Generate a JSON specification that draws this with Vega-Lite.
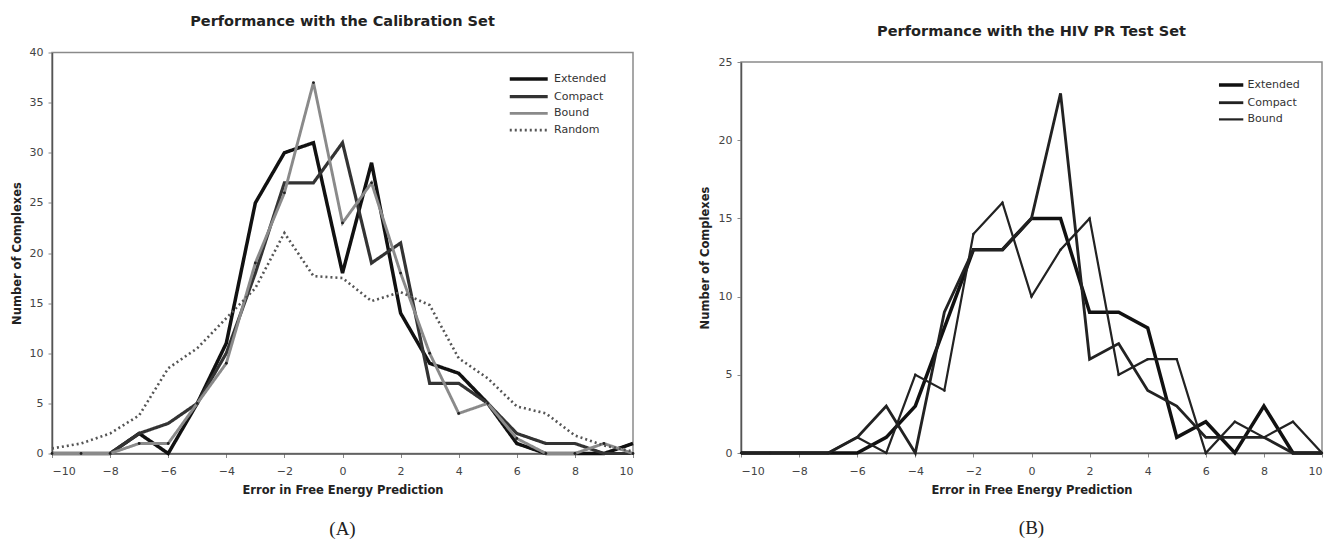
{
  "$schema": "https://vega.github.io/schema/vega-lite/v6.json",
  "padding": {"left": 10, "top": 12.5, "right": 0, "bottom": 0},
  "background": "white",
  "spacing": 57,
  "resolve": {"scale": {"color": "independent", "strokeWidth": "independent", "strokeDash": "independent", "x": "independent", "y": "independent"}, "legend": {"color": "independent", "strokeWidth": "independent", "strokeDash": "independent"}},
  "config": {
    "font": "DejaVu Sans",
    "view": {"stroke": "#8a8a8a", "strokeWidth": 1.5},
    "axis": {
      "grid": false,
      "labelFont": "DejaVu Sans",
      "labelFontSize": 11,
      "labelColor": "#444",
      "titleFont": "DejaVu Sans",
      "titleFontSize": 11.5,
      "titleFontWeight": "bold",
      "titleColor": "#222",
      "domainColor": "#555",
      "domainWidth": 1.5,
      "tickColor": "#888",
      "tickSize": 4
    },
    "legend": {
      "labelFont": "DejaVu Sans",
      "labelFontSize": 11,
      "labelColor": "#333",
      "symbolType": "M-1,0H7",
      "orient": "none",
      "title": null,
      "padding": 0,
      "rowPadding": 3.7
    },
    "title": {"font": "DejaVu Sans", "fontSize": 14.5, "fontWeight": "bold", "color": "#222"}
  },
  "datasets": {
    "calib": [
      {"x": -10, "n": 0, "s": "Extended"}, {"x": -9, "n": 0, "s": "Extended"}, {"x": -8, "n": 0, "s": "Extended"}, {"x": -7, "n": 2, "s": "Extended"}, {"x": -6, "n": 0, "s": "Extended"}, {"x": -5, "n": 5, "s": "Extended"}, {"x": -4, "n": 11, "s": "Extended"}, {"x": -3, "n": 25, "s": "Extended"}, {"x": -2, "n": 30, "s": "Extended"}, {"x": -1, "n": 31, "s": "Extended"}, {"x": 0, "n": 18, "s": "Extended"}, {"x": 1, "n": 29, "s": "Extended"}, {"x": 2, "n": 14, "s": "Extended"}, {"x": 3, "n": 9, "s": "Extended"}, {"x": 4, "n": 8, "s": "Extended"}, {"x": 5, "n": 5, "s": "Extended"}, {"x": 6, "n": 1, "s": "Extended"}, {"x": 7, "n": 0, "s": "Extended"}, {"x": 8, "n": 0, "s": "Extended"}, {"x": 9, "n": 0, "s": "Extended"}, {"x": 10, "n": 1, "s": "Extended"},
      {"x": -10, "n": 0, "s": "Compact"}, {"x": -9, "n": 0, "s": "Compact"}, {"x": -8, "n": 0, "s": "Compact"}, {"x": -7, "n": 2, "s": "Compact"}, {"x": -6, "n": 3, "s": "Compact"}, {"x": -5, "n": 5, "s": "Compact"}, {"x": -4, "n": 10, "s": "Compact"}, {"x": -3, "n": 18, "s": "Compact"}, {"x": -2, "n": 27, "s": "Compact"}, {"x": -1, "n": 27, "s": "Compact"}, {"x": 0, "n": 31, "s": "Compact"}, {"x": 1, "n": 19, "s": "Compact"}, {"x": 2, "n": 21, "s": "Compact"}, {"x": 3, "n": 7, "s": "Compact"}, {"x": 4, "n": 7, "s": "Compact"}, {"x": 5, "n": 5, "s": "Compact"}, {"x": 6, "n": 2, "s": "Compact"}, {"x": 7, "n": 1, "s": "Compact"}, {"x": 8, "n": 1, "s": "Compact"}, {"x": 9, "n": 0, "s": "Compact"}, {"x": 10, "n": 0, "s": "Compact"},
      {"x": -10, "n": 0, "s": "Bound"}, {"x": -9, "n": 0, "s": "Bound"}, {"x": -8, "n": 0, "s": "Bound"}, {"x": -7, "n": 1, "s": "Bound"}, {"x": -6, "n": 1, "s": "Bound"}, {"x": -5, "n": 5, "s": "Bound"}, {"x": -4, "n": 9, "s": "Bound"}, {"x": -3, "n": 19, "s": "Bound"}, {"x": -2, "n": 26, "s": "Bound"}, {"x": -1, "n": 37, "s": "Bound"}, {"x": 0, "n": 23, "s": "Bound"}, {"x": 1, "n": 27, "s": "Bound"}, {"x": 2, "n": 18, "s": "Bound"}, {"x": 3, "n": 10, "s": "Bound"}, {"x": 4, "n": 4, "s": "Bound"}, {"x": 5, "n": 5, "s": "Bound"}, {"x": 6, "n": 1.5, "s": "Bound"}, {"x": 7, "n": 0, "s": "Bound"}, {"x": 8, "n": 0, "s": "Bound"}, {"x": 9, "n": 1, "s": "Bound"}, {"x": 10, "n": 0, "s": "Bound"},
      {"x": -10, "n": 0.5, "s": "Random"}, {"x": -9, "n": 1, "s": "Random"}, {"x": -8, "n": 2, "s": "Random"}, {"x": -7, "n": 3.8, "s": "Random"}, {"x": -6, "n": 8.5, "s": "Random"}, {"x": -5, "n": 10.5, "s": "Random"}, {"x": -4, "n": 13.5, "s": "Random"}, {"x": -3, "n": 16.5, "s": "Random"}, {"x": -2, "n": 22, "s": "Random"}, {"x": -1, "n": 17.7, "s": "Random"}, {"x": 0, "n": 17.5, "s": "Random"}, {"x": 1, "n": 15.2, "s": "Random"}, {"x": 2, "n": 16.1, "s": "Random"}, {"x": 3, "n": 14.8, "s": "Random"}, {"x": 4, "n": 9.5, "s": "Random"}, {"x": 5, "n": 7.5, "s": "Random"}, {"x": 6, "n": 4.7, "s": "Random"}, {"x": 7, "n": 4, "s": "Random"}, {"x": 8, "n": 1.8, "s": "Random"}, {"x": 9, "n": 0.8, "s": "Random"}, {"x": 10, "n": 0.2, "s": "Random"}
    ],
    "hiv": [
      {"x": -10, "n": 0, "s": "Extended"}, {"x": -9, "n": 0, "s": "Extended"}, {"x": -8, "n": 0, "s": "Extended"}, {"x": -7, "n": 0, "s": "Extended"}, {"x": -6, "n": 0, "s": "Extended"}, {"x": -5, "n": 1, "s": "Extended"}, {"x": -4, "n": 3, "s": "Extended"}, {"x": -3, "n": 8, "s": "Extended"}, {"x": -2, "n": 13, "s": "Extended"}, {"x": -1, "n": 13, "s": "Extended"}, {"x": 0, "n": 15, "s": "Extended"}, {"x": 1, "n": 15, "s": "Extended"}, {"x": 2, "n": 9, "s": "Extended"}, {"x": 3, "n": 9, "s": "Extended"}, {"x": 4, "n": 8, "s": "Extended"}, {"x": 5, "n": 1, "s": "Extended"}, {"x": 6, "n": 2, "s": "Extended"}, {"x": 7, "n": 0, "s": "Extended"}, {"x": 8, "n": 3, "s": "Extended"}, {"x": 9, "n": 0, "s": "Extended"}, {"x": 10, "n": 0, "s": "Extended"},
      {"x": -10, "n": 0, "s": "Compact"}, {"x": -9, "n": 0, "s": "Compact"}, {"x": -8, "n": 0, "s": "Compact"}, {"x": -7, "n": 0, "s": "Compact"}, {"x": -6, "n": 1, "s": "Compact"}, {"x": -5, "n": 3, "s": "Compact"}, {"x": -4, "n": 0, "s": "Compact"}, {"x": -3, "n": 9, "s": "Compact"}, {"x": -2, "n": 13, "s": "Compact"}, {"x": -1, "n": 13, "s": "Compact"}, {"x": 0, "n": 15, "s": "Compact"}, {"x": 1, "n": 23, "s": "Compact"}, {"x": 2, "n": 6, "s": "Compact"}, {"x": 3, "n": 7, "s": "Compact"}, {"x": 4, "n": 4, "s": "Compact"}, {"x": 5, "n": 3, "s": "Compact"}, {"x": 6, "n": 1, "s": "Compact"}, {"x": 7, "n": 1, "s": "Compact"}, {"x": 8, "n": 1, "s": "Compact"}, {"x": 9, "n": 0, "s": "Compact"}, {"x": 10, "n": 0, "s": "Compact"},
      {"x": -10, "n": 0, "s": "Bound"}, {"x": -9, "n": 0, "s": "Bound"}, {"x": -8, "n": 0, "s": "Bound"}, {"x": -7, "n": 0, "s": "Bound"}, {"x": -6, "n": 1, "s": "Bound"}, {"x": -5, "n": 0, "s": "Bound"}, {"x": -4, "n": 5, "s": "Bound"}, {"x": -3, "n": 4, "s": "Bound"}, {"x": -2, "n": 14, "s": "Bound"}, {"x": -1, "n": 16, "s": "Bound"}, {"x": 0, "n": 10, "s": "Bound"}, {"x": 1, "n": 13, "s": "Bound"}, {"x": 2, "n": 15, "s": "Bound"}, {"x": 3, "n": 5, "s": "Bound"}, {"x": 4, "n": 6, "s": "Bound"}, {"x": 5, "n": 6, "s": "Bound"}, {"x": 6, "n": 0, "s": "Bound"}, {"x": 7, "n": 2, "s": "Bound"}, {"x": 8, "n": 1, "s": "Bound"}, {"x": 9, "n": 2, "s": "Bound"}, {"x": 10, "n": 0, "s": "Bound"}
    ]
  },
  "hconcat": [
    {
      "width": 581,
      "height": 401,
      "title": {"text": "Performance with the Calibration Set", "frame": "group", "offset": 17},
      "layer": [
        {
          "data": {"name": "calib"},
          "mark": {"type": "line", "strokeJoin": "miter"},
          "encoding": {
            "x": {"field": "x", "type": "quantitative", "scale": {"domain": [-10, 10], "nice": false}, "axis": {"values": [-10, -8, -6, -4, -2, 0, 2, 4, 6, 8, 10], "title": "Error in Free Energy Prediction", "labelPadding": 8, "titlePadding": 8}},
            "y": {"field": "n", "type": "quantitative", "scale": {"domain": [0, 40], "nice": false}, "axis": {"values": [0, 5, 10, 15, 20, 25, 30, 35, 40], "title": "Number of Complexes", "labelPadding": 5, "titlePadding": 7}},
            "color": {"field": "s", "type": "nominal", "scale": {"domain": ["Extended", "Compact", "Bound", "Random"], "range": ["#111111", "#333333", "#8a8a8a", "#555555"]}, "legend": {"legendX": 456, "legendY": 20, "symbolSize": 90, "labelOffset": 33}},
            "strokeWidth": {"field": "s", "type": "ordinal", "scale": {"domain": ["Extended", "Compact", "Bound", "Random"], "range": [3.5, 2.6, 2, 1.5]}},
            "strokeDash": {"field": "s", "type": "nominal", "scale": {"domain": ["Extended", "Compact", "Bound", "Random"], "range": [[1, 0], [1, 0], [1, 0], [2, 3]]}},
            "order": {"field": "x", "type": "quantitative"}
          }
        },
        {
          "data": {"name": "calib"},
          "transform": [{"filter": "datum.s === 'Bound'"}],
          "mark": {"type": "point", "filled": true, "size": 8, "color": "#222", "opacity": 1},
          "encoding": {
            "x": {"field": "x", "type": "quantitative"},
            "y": {"field": "n", "type": "quantitative"}
          }
        },
        {
          "data": {"values": [{"label": "(A)"}]},
          "mark": {"type": "text", "font": "Liberation Serif", "fontSize": 19, "color": "#222", "baseline": "middle", "align": "center"},
          "encoding": {
            "x": {"datum": 0, "type": "quantitative"},
            "y": {"datum": -7.5, "type": "quantitative"},
            "text": {"field": "label"}
          }
        }
      ]
    },
    {
      "bounds": "flush",
      "spacing": 8.5,
      "vconcat": [
        {
          "width": 581,
          "height": 1,
          "view": {"stroke": null},
          "title": {"text": "Performance with the HIV PR Test Set", "frame": "group", "offset": 13.3},
          "data": {"values": [{"k": 0}]},
          "mark": {"type": "point", "opacity": 0, "size": 0},
          "encoding": {}
        },
        {
          "width": 581,
          "height": 391,
          "layer": [
            {
              "data": {"name": "hiv"},
              "mark": {"type": "line", "strokeJoin": "miter"},
              "encoding": {
                "x": {"field": "x", "type": "quantitative", "scale": {"domain": [-10, 10], "nice": false}, "axis": {"values": [-10, -8, -6, -4, -2, 0, 2, 4, 6, 8, 10], "title": "Error in Free Energy Prediction", "labelPadding": 8, "titlePadding": 8}},
                "y": {"field": "n", "type": "quantitative", "scale": {"domain": [0, 25], "nice": false}, "axis": {"values": [0, 5, 10, 15, 20, 25], "title": "Number of Complexes", "labelPadding": 5, "titlePadding": 8}},
                "color": {"field": "s", "type": "nominal", "scale": {"domain": ["Extended", "Compact", "Bound"], "range": ["#111111", "#222222", "#222222"]}, "legend": {"legendX": 475.5, "legendY": 27, "symbolSize": 37, "labelOffset": 20}},
                "strokeWidth": {"field": "s", "type": "ordinal", "scale": {"domain": ["Extended", "Compact", "Bound"], "range": [3.5, 2.2, 1]}},
                "order": {"field": "x", "type": "quantitative"}
              }
            },
            {
              "data": {"name": "hiv"},
              "transform": [{"filter": "datum.s === 'Bound'"}],
              "mark": {"type": "point", "filled": true, "size": 6, "color": "#222", "opacity": 1},
              "encoding": {
                "x": {"field": "x", "type": "quantitative"},
                "y": {"field": "n", "type": "quantitative"}
              }
            },
            {
              "data": {"values": [{"label": "(B)"}]},
              "mark": {"type": "text", "font": "Liberation Serif", "fontSize": 19, "color": "#222", "baseline": "middle", "align": "center"},
              "encoding": {
                "x": {"datum": 0, "type": "quantitative"},
                "y": {"datum": -4.78, "type": "quantitative"},
                "text": {"field": "label"}
              }
            }
          ]
        }
      ]
    }
  ]
}
